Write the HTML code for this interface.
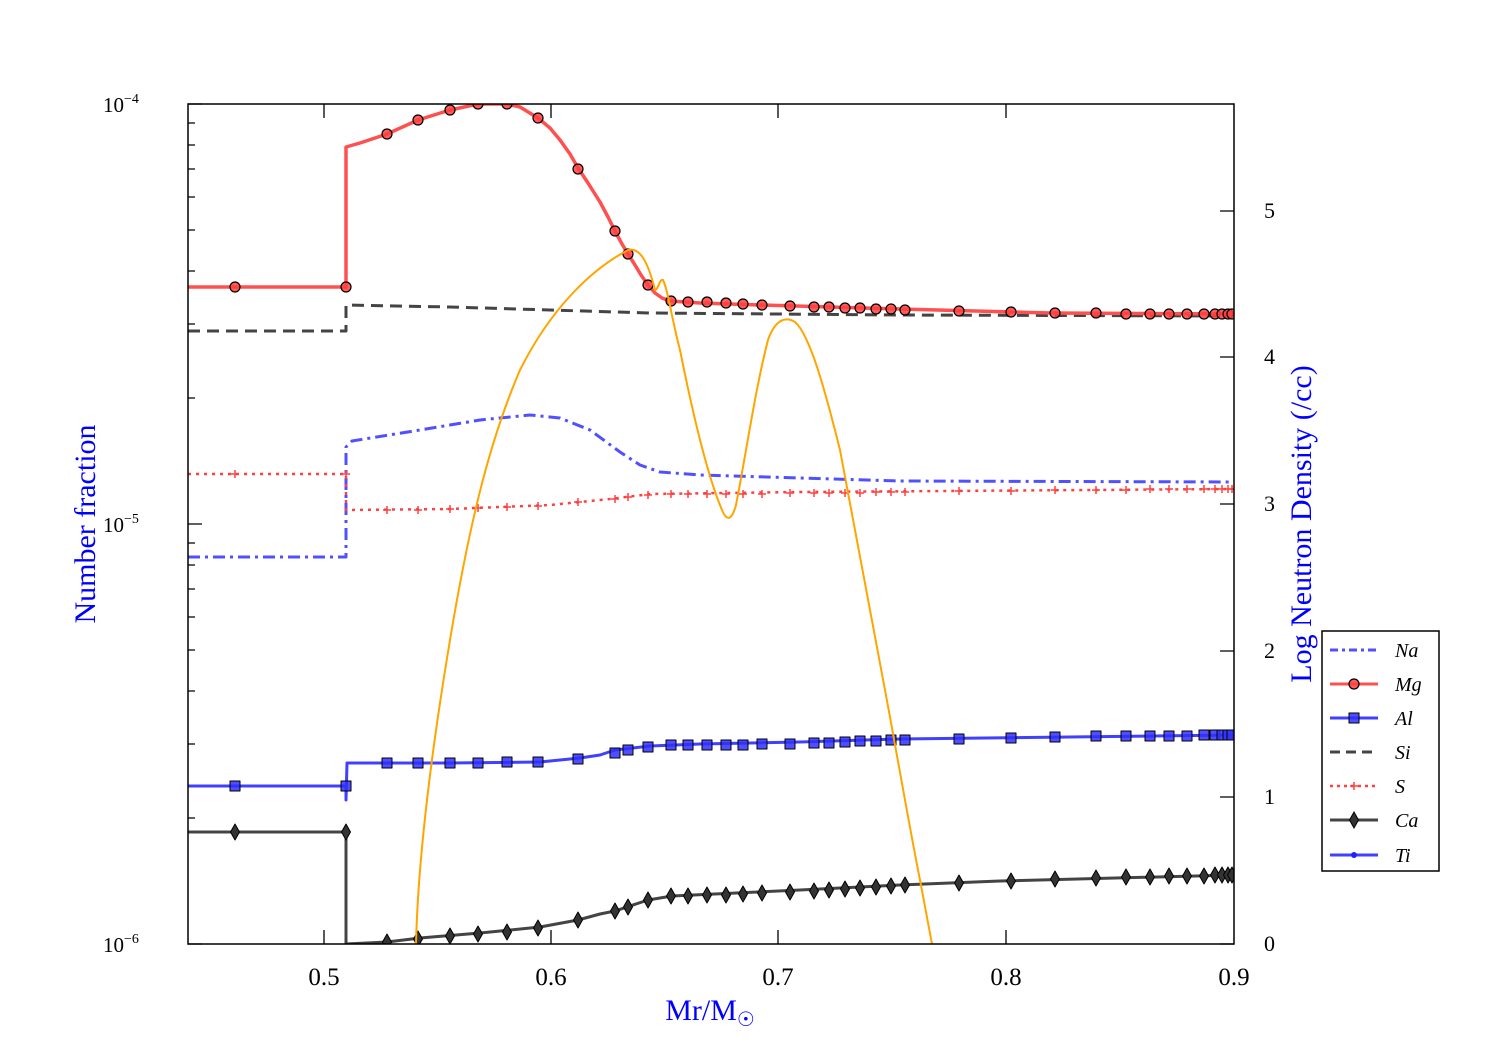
<!DOCTYPE html>
<html><head><meta charset="utf-8"><style>
body{margin:0;background:#fff}
svg{display:block}
text{font-family:"Liberation Serif",serif}
</style></head><body>
<svg width="1500" height="1050" viewBox="0 0 1500 1050" xmlns="http://www.w3.org/2000/svg">
<defs>
<clipPath id="c"><rect x="188" y="104" width="1046" height="840"/></clipPath>
<circle id="mc" r="5" fill="#ff4040" stroke="#000" stroke-width="1.2" fill-opacity="0.85"/>
<rect id="ms" x="-5" y="-5" width="10" height="10" fill="#3030ff" stroke="#000" stroke-width="1" fill-opacity="0.85"/>
<path id="md" d="M0,-8 L4.5,0 L0,8 L-4.5,0Z" fill="#333" stroke="#000" stroke-width="1"/>
<path id="mp" d="M-4,0H4M0,-4V4" stroke="#ff4040" stroke-width="1.5"/>
</defs>
<g clip-path="url(#c)" fill="none" stroke-linejoin="round">
<polyline stroke="#444" stroke-width="3" stroke-dasharray="12,7" points="188,331 346,331 346,305 450,307 650,313 900,315 1234,316"/>
<polyline stroke="#5050ff" stroke-width="3" stroke-dasharray="12,5,3,5" points="188,557 346,557 346,447 352,441 420,430 480,420 530,415 560,418 590,430 620,452 640,465 660,472 700,475 800,478 900,481 1234,482"/>
<polyline stroke="#ff4040" stroke-width="2.5" stroke-dasharray="3,5" points="188,474 346,474 346,510 450,509 550,505 610,499 650,494 800,492 1234,489"/>
<g>
<use href="#mp" x="235" y="474"/><use href="#mp" x="346" y="474"/><use href="#mp" x="387" y="510"/><use href="#mp" x="418" y="510"/><use href="#mp" x="450" y="509"/><use href="#mp" x="478" y="508"/><use href="#mp" x="507" y="507"/><use href="#mp" x="538" y="506"/><use href="#mp" x="578" y="502"/><use href="#mp" x="615" y="499"/><use href="#mp" x="628" y="497"/><use href="#mp" x="648" y="495"/><use href="#mp" x="671" y="494"/><use href="#mp" x="688" y="494"/><use href="#mp" x="707" y="494"/><use href="#mp" x="726" y="494"/><use href="#mp" x="743" y="494"/><use href="#mp" x="762" y="494"/><use href="#mp" x="790" y="493"/><use href="#mp" x="814" y="493"/><use href="#mp" x="829" y="493"/><use href="#mp" x="845" y="493"/><use href="#mp" x="860" y="493"/><use href="#mp" x="876" y="492"/><use href="#mp" x="891" y="492"/><use href="#mp" x="905" y="492"/><use href="#mp" x="959" y="491"/><use href="#mp" x="1011" y="491"/><use href="#mp" x="1055" y="490"/><use href="#mp" x="1096" y="490"/><use href="#mp" x="1126" y="490"/><use href="#mp" x="1150" y="489"/><use href="#mp" x="1169" y="489"/><use href="#mp" x="1187" y="489"/><use href="#mp" x="1204" y="489"/><use href="#mp" x="1215" y="489"/><use href="#mp" x="1222" y="489"/><use href="#mp" x="1228" y="489"/><use href="#mp" x="1232" y="489"/>
</g>
<polyline stroke="#ff5050" stroke-width="3.5" points="188,287 346,287 346,147 360,143 387,134 418,120 450,110 478,104 507,104 520,107 538,118 550,128 560,140 570,154 578,168 588,183 600,202 608,217 615,231 622,244 628,254 635,265 641,275 648,285 655,293 662,298 670,301 700,303 760,305 900,309 1050,313 1234,314"/>
<g>
<use href="#mc" x="235" y="287"/><use href="#mc" x="346" y="287"/><use href="#mc" x="387" y="134"/><use href="#mc" x="418" y="120"/><use href="#mc" x="450" y="110"/><use href="#mc" x="478" y="104"/><use href="#mc" x="507" y="104"/><use href="#mc" x="538" y="118"/><use href="#mc" x="578" y="169"/><use href="#mc" x="615" y="231"/><use href="#mc" x="628" y="254"/><use href="#mc" x="648" y="285"/><use href="#mc" x="671" y="301"/><use href="#mc" x="688" y="302"/><use href="#mc" x="707" y="302"/><use href="#mc" x="726" y="303"/><use href="#mc" x="743" y="304"/><use href="#mc" x="762" y="305"/><use href="#mc" x="790" y="306"/><use href="#mc" x="814" y="307"/><use href="#mc" x="829" y="307"/><use href="#mc" x="845" y="308"/><use href="#mc" x="860" y="308"/><use href="#mc" x="876" y="309"/><use href="#mc" x="891" y="309"/><use href="#mc" x="905" y="310"/><use href="#mc" x="959" y="311"/><use href="#mc" x="1011" y="312"/><use href="#mc" x="1055" y="313"/><use href="#mc" x="1096" y="313"/><use href="#mc" x="1126" y="314"/><use href="#mc" x="1150" y="314"/><use href="#mc" x="1169" y="314"/><use href="#mc" x="1187" y="314"/><use href="#mc" x="1204" y="314"/><use href="#mc" x="1215" y="314"/><use href="#mc" x="1222" y="314"/><use href="#mc" x="1228" y="314"/><use href="#mc" x="1232" y="314"/>
</g>
<polyline stroke="#4040ff" stroke-width="3" points="188,786 346,786 346,800 347,763 450,763 540,762 580,758 600,755 615,750 650,746 700,744 800,742 900,739 1234,735"/>
<g>
<use href="#ms" x="235" y="786"/><use href="#ms" x="346" y="786"/><use href="#ms" x="387" y="763"/><use href="#ms" x="418" y="763"/><use href="#ms" x="450" y="763"/><use href="#ms" x="478" y="763"/><use href="#ms" x="507" y="762"/><use href="#ms" x="538" y="762"/><use href="#ms" x="578" y="759"/><use href="#ms" x="615" y="753"/><use href="#ms" x="628" y="750"/><use href="#ms" x="648" y="747"/><use href="#ms" x="671" y="745"/><use href="#ms" x="688" y="745"/><use href="#ms" x="707" y="745"/><use href="#ms" x="726" y="745"/><use href="#ms" x="743" y="745"/><use href="#ms" x="762" y="744"/><use href="#ms" x="790" y="744"/><use href="#ms" x="814" y="743"/><use href="#ms" x="829" y="743"/><use href="#ms" x="845" y="742"/><use href="#ms" x="860" y="741"/><use href="#ms" x="876" y="741"/><use href="#ms" x="891" y="740"/><use href="#ms" x="905" y="740"/><use href="#ms" x="959" y="739"/><use href="#ms" x="1011" y="738"/><use href="#ms" x="1055" y="737"/><use href="#ms" x="1096" y="736"/><use href="#ms" x="1126" y="736"/><use href="#ms" x="1150" y="736"/><use href="#ms" x="1169" y="736"/><use href="#ms" x="1187" y="736"/><use href="#ms" x="1204" y="735"/><use href="#ms" x="1215" y="735"/><use href="#ms" x="1222" y="735"/><use href="#ms" x="1228" y="735"/><use href="#ms" x="1232" y="735"/>
</g>
<polyline stroke="#444" stroke-width="3" points="188,832 346,832 346,944 387,942 420,938 480,933 540,927 578,920 600,914 615,911 648,900 672,896 800,890 900,885 1000,881 1234,875"/>
<g>
<use href="#md" x="235" y="832"/><use href="#md" x="346" y="832"/><use href="#md" x="387" y="942"/><use href="#md" x="418" y="939"/><use href="#md" x="450" y="936"/><use href="#md" x="478" y="934"/><use href="#md" x="507" y="932"/><use href="#md" x="538" y="928"/><use href="#md" x="578" y="920"/><use href="#md" x="615" y="911"/><use href="#md" x="628" y="907"/><use href="#md" x="648" y="900"/><use href="#md" x="671" y="896"/><use href="#md" x="688" y="896"/><use href="#md" x="707" y="895"/><use href="#md" x="726" y="895"/><use href="#md" x="743" y="894"/><use href="#md" x="762" y="893"/><use href="#md" x="790" y="892"/><use href="#md" x="814" y="891"/><use href="#md" x="829" y="890"/><use href="#md" x="845" y="889"/><use href="#md" x="860" y="888"/><use href="#md" x="876" y="887"/><use href="#md" x="891" y="886"/><use href="#md" x="905" y="885"/><use href="#md" x="959" y="883"/><use href="#md" x="1011" y="881"/><use href="#md" x="1055" y="879"/><use href="#md" x="1096" y="878"/><use href="#md" x="1126" y="877"/><use href="#md" x="1150" y="877"/><use href="#md" x="1169" y="876"/><use href="#md" x="1187" y="876"/><use href="#md" x="1204" y="876"/><use href="#md" x="1215" y="875"/><use href="#md" x="1222" y="875"/><use href="#md" x="1228" y="875"/><use href="#md" x="1232" y="875"/>
</g>
<path stroke="#ffa500" stroke-width="2" d="M416,944 C418,860 430,760 450,640 C470,520 490,440 520,370 C550,310 590,270 628,250 C640,247 648,262 655,290 C658,290 660,278 663,280 C668,290 672,320 680,350 C690,400 705,470 722,510 C727,522 732,520 736,505 C745,460 755,390 768,340 C775,320 785,316 795,322 C810,335 825,390 840,450 C855,530 870,610 885,690 C898,760 910,830 920,880 L932,944"/>
</g>
<rect x="188" y="104" width="1046" height="840" fill="none" stroke="#000" stroke-width="1.5"/>
<g stroke="#000" stroke-width="1.3">
<path d="M324,944v-14M551,944v-14M778,944v-14M1006,944v-14M324,104v14M551,104v14M778,104v14M1006,104v14"/>
<path d="M188,104h14M188,524h14M188,944h14"/>
<path d="M188,818h7M188,744h7M188,691h7M188,650h7M188,617h7M188,589h7M188,565h7M188,543h7M188,398h7M188,324h7M188,271h7M188,230h7M188,197h7M188,169h7M188,145h7M188,123h7"/>
<path d="M1234,944h-14M1234,797h-14M1234,651h-14M1234,504h-14M1234,357h-14M1234,211h-14"/>
</g>
<g font-size="25" fill="#000">
<text x="324" y="985" text-anchor="middle">0.5</text>
<text x="551" y="985" text-anchor="middle">0.6</text>
<text x="778" y="985" text-anchor="middle">0.7</text>
<text x="1006" y="985" text-anchor="middle">0.8</text>
<text x="1234" y="985" text-anchor="middle">0.9</text>
</g>
<g font-size="21" fill="#000">
<text x="103" y="112">10<tspan font-size="14" dy="-9">−4</tspan></text>
<text x="103" y="532">10<tspan font-size="14" dy="-9">−5</tspan></text>
<text x="103" y="952">10<tspan font-size="14" dy="-9">−6</tspan></text>
</g>
<g font-size="22" fill="#000">
<text x="1264" y="951">0</text>
<text x="1264" y="804">1</text>
<text x="1264" y="658">2</text>
<text x="1264" y="511">3</text>
<text x="1264" y="364">4</text>
<text x="1264" y="218">5</text>
</g>
<text x="710" y="1020" text-anchor="middle" font-size="30" fill="#0000ff">Mr/M<tspan font-size="20" dy="6">☉</tspan></text>
<text transform="translate(95,524) rotate(-90)" text-anchor="middle" font-size="30" fill="#0000ff">Number fraction</text>
<text transform="translate(1311,524) rotate(-90)" text-anchor="middle" font-size="30" fill="#0000ff">Log Neutron Density (/cc)</text>
<rect x="1322" y="631" width="117" height="240" fill="#fff" stroke="#000" stroke-width="1.5"/>
<g fill="none" stroke-width="3">
<line x1="1330" y1="650" x2="1378" y2="650" stroke="#5050ff" stroke-dasharray="8,4,3,4"/>
<line x1="1330" y1="684" x2="1378" y2="684" stroke="#ff5050"/>
<line x1="1330" y1="718" x2="1378" y2="718" stroke="#4040ff"/>
<line x1="1330" y1="752" x2="1378" y2="752" stroke="#444" stroke-dasharray="10,6"/>
<line x1="1330" y1="786" x2="1378" y2="786" stroke="#ff4040" stroke-dasharray="3,4" stroke-width="2.5"/>
<line x1="1330" y1="820" x2="1378" y2="820" stroke="#444"/>
<line x1="1330" y1="855" x2="1378" y2="855" stroke="#4040ff"/>
</g>
<use href="#mc" x="1354" y="684"/><use href="#ms" x="1354" y="718"/><use href="#mp" x="1354" y="786"/><use href="#md" x="1354" y="820"/>
<circle cx="1354" cy="855" r="3" fill="#2020ff"/>
<g font-size="20" font-style="italic" fill="#000">
<text x="1395" y="657">Na</text><text x="1395" y="691">Mg</text><text x="1395" y="725">Al</text><text x="1395" y="759">Si</text><text x="1395" y="793">S</text><text x="1395" y="827">Ca</text><text x="1395" y="862">Ti</text>
</g>
</svg>
</body></html>
